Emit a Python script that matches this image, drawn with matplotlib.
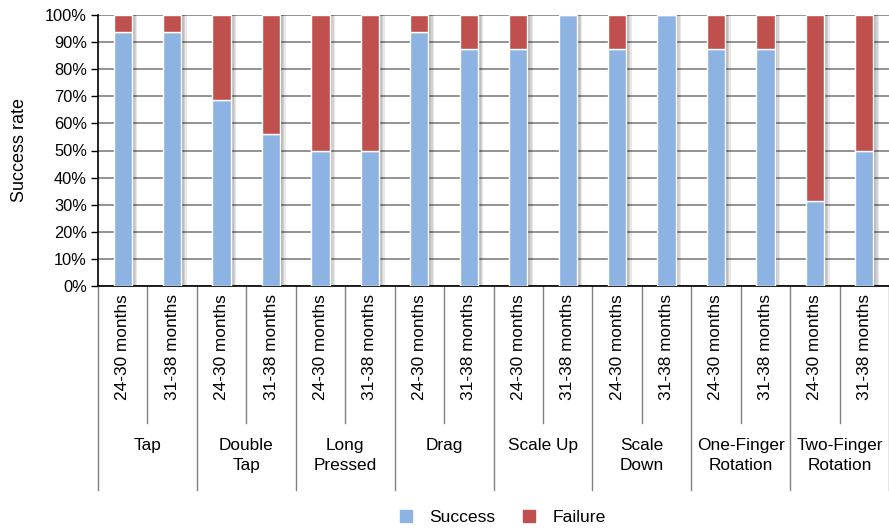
import matplotlib.pyplot as plt
import numpy as np
from matplotlib import patheffects
from matplotlib.lines import Line2D

plt.rcParams['font.family'] = ['Liberation Sans', 'DejaVu Sans']

gestures = ['Tap', 'Double\nTap', 'Long\nPressed', 'Drag', 'Scale Up',
            'Scale\nDown', 'One-Finger\nRotation', 'Two-Finger\nRotation']
age_groups = ['24-30 months', '31-38 months']

# success rate per gesture, one pair per age group
success_2430 = [93.75, 68.75, 50.0, 93.75, 87.5, 87.5, 87.5, 31.25]
success_3138 = [93.75, 56.25, 50.0, 87.5, 100.0, 100.0, 87.5, 50.0]

BLUE = '#8DB3E2'
RED = '#C0504D'

success = np.ravel(np.column_stack([success_2430, success_3138]))
failure = 100 - success
x = np.arange(len(success)) + 0.5
tick_labels = age_groups * len(gestures)

fig = plt.figure(figsize=(8.89, 5.30), dpi=100)
ax = fig.add_axes([98 / 889, 1 - 286 / 530, 1 - 98 / 889, 271 / 530])

# soft shadow on the right of each bar
shadow = [patheffects.SimplePatchShadow(offset=(d, -0.3), shadow_rgbFace='black', alpha=0.09)
          for d in (1.0, 2.0, 3.0, 4.0)] + [patheffects.Normal()]

b1 = ax.bar(x, success, width=0.37, color=BLUE, edgecolor='white', linewidth=1, zorder=3)
b2 = ax.bar(x, failure, bottom=success, width=0.37, color=RED, edgecolor='white',
            linewidth=1, zorder=3)
for p in list(b1) + list(b2):
    p.set_path_effects(shadow)

ax.set_xlim(0, len(success))
ax.set_ylim(0, 100)
ax.set_yticks(np.arange(0, 101, 10))
ax.set_yticklabels([f'{v}%' for v in range(0, 101, 10)], fontsize=11.8)
ax.tick_params(axis='y', length=5, width=1, color='black', pad=3)
ax.set_ylabel('Success rate', fontsize=13, labelpad=12)
ax.yaxis.grid(True, color='#808080', linewidth=1.2, zorder=0)
ax.set_axisbelow(True)

ax.set_xticks(x)
ax.set_xticklabels(tick_labels, rotation=90, fontsize=12.4, va='top')
ax.tick_params(axis='x', length=0, pad=6)

for s in ['top', 'right']:
    ax.spines[s].set_visible(False)
ax.spines['left'].set_linewidth(1.2)
ax.spines['bottom'].set_linewidth(1.2)

# category axis separators below the plot
trans = ax.get_xaxis_transform()
for i in range(len(success) + 1):
    bottom = -0.753 if i % 2 == 0 else -0.505
    ax.add_line(Line2D([i, i], [0, bottom], transform=trans, color='#808080',
                       linewidth=1, clip_on=False))

for g, name in enumerate(gestures):
    ax.text(2 * g + 1, -0.56, name, transform=trans, ha='center', va='top',
            fontsize=12.4, linespacing=1.4)

handles = [Line2D([0], [0], marker='s', linestyle='none', markersize=9,
                  markerfacecolor=c, markeredgecolor=c, label=l)
           for c, l in [(BLUE, 'Success'), (RED, 'Failure')]]
fig.legend(handles=handles, loc='center', bbox_to_anchor=(0.559, 0.024), ncol=2,
           frameon=False, fontsize=12.6, handletextpad=0.35, columnspacing=0.9)

fig.savefig('out.png', dpi=100)
